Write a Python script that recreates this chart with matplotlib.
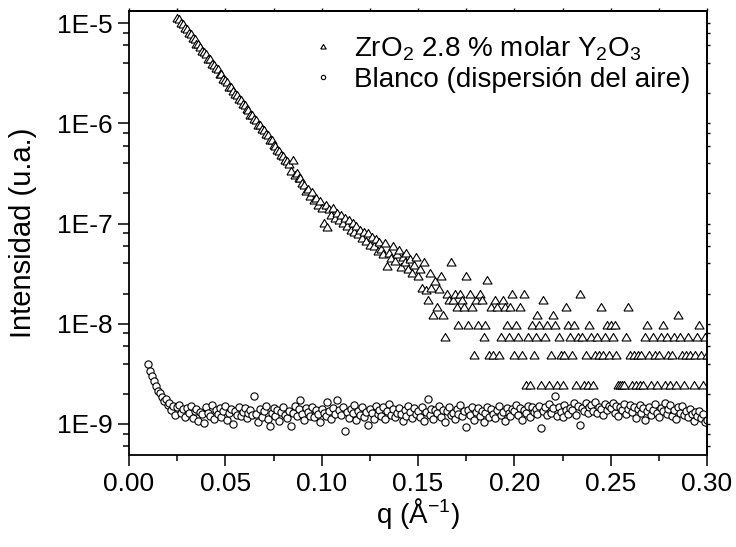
import numpy as np
import matplotlib.pyplot as plt
from matplotlib.ticker import LogLocator, FuncFormatter, MultipleLocator, NullFormatter

plt.rcParams['font.family'] = ['Liberation Sans', 'DejaVu Sans']
plt.rcParams['mathtext.fontset'] = 'custom'
plt.rcParams['mathtext.rm'] = 'Liberation Sans'
plt.rcParams['mathtext.it'] = 'Liberation Sans'
plt.rcParams['mathtext.default'] = 'regular'

nan = float('nan')

# q grid (1/Angstrom), shared by both measurements
q = [0.010, 0.011, 0.012, 0.013, 0.014, 0.015, 0.016, 0.017, 0.018, 0.019,
     0.020, 0.021, 0.022, 0.023, 0.024, 0.025, 0.026, 0.027, 0.028, 0.029,
     0.030, 0.031, 0.032, 0.033, 0.034, 0.035, 0.036, 0.037, 0.038, 0.039,
     0.040, 0.041, 0.042, 0.043, 0.044, 0.045, 0.046, 0.047, 0.048, 0.049,
     0.050, 0.051, 0.052, 0.053, 0.054, 0.055, 0.056, 0.057, 0.058, 0.059,
     0.060, 0.061, 0.062, 0.063, 0.064, 0.065, 0.066, 0.067, 0.068, 0.069,
     0.070, 0.071, 0.072, 0.073, 0.074, 0.075, 0.076, 0.077, 0.078, 0.079,
     0.080, 0.081, 0.082, 0.083, 0.084, 0.085, 0.086, 0.087, 0.088, 0.089,
     0.090, 0.091, 0.092, 0.093, 0.094, 0.095, 0.096, 0.097, 0.098, 0.099,
     0.100, 0.101, 0.102, 0.103, 0.104, 0.105, 0.106, 0.107, 0.108, 0.109,
     0.110, 0.111, 0.112, 0.113, 0.114, 0.115, 0.116, 0.117, 0.118, 0.119,
     0.120, 0.121, 0.122, 0.123, 0.124, 0.125, 0.126, 0.127, 0.128, 0.129,
     0.130, 0.131, 0.132, 0.133, 0.134, 0.135, 0.136, 0.137, 0.138, 0.139,
     0.140, 0.141, 0.142, 0.143, 0.144, 0.145, 0.146, 0.147, 0.148, 0.149,
     0.150, 0.151, 0.152, 0.153, 0.154, 0.155, 0.156, 0.157, 0.158, 0.159,
     0.160, 0.161, 0.162, 0.163, 0.164, 0.165, 0.166, 0.167, 0.168, 0.169,
     0.170, 0.171, 0.172, 0.173, 0.174, 0.175, 0.176, 0.177, 0.178, 0.179,
     0.180, 0.181, 0.182, 0.183, 0.184, 0.185, 0.186, 0.187, 0.188, 0.189,
     0.190, 0.191, 0.192, 0.193, 0.194, 0.195, 0.196, 0.197, 0.198, 0.199,
     0.200, 0.201, 0.202, 0.203, 0.204, 0.205, 0.206, 0.207, 0.208, 0.209,
     0.210, 0.211, 0.212, 0.213, 0.214, 0.215, 0.216, 0.217, 0.218, 0.219,
     0.220, 0.221, 0.222, 0.223, 0.224, 0.225, 0.226, 0.227, 0.228, 0.229,
     0.230, 0.231, 0.232, 0.233, 0.234, 0.235, 0.236, 0.237, 0.238, 0.239,
     0.240, 0.241, 0.242, 0.243, 0.244, 0.245, 0.246, 0.247, 0.248, 0.249,
     0.250, 0.251, 0.252, 0.253, 0.254, 0.255, 0.256, 0.257, 0.258, 0.259,
     0.260, 0.261, 0.262, 0.263, 0.264, 0.265, 0.266, 0.267, 0.268, 0.269,
     0.270, 0.271, 0.272, 0.273, 0.274, 0.275, 0.276, 0.277, 0.278, 0.279,
     0.280, 0.281, 0.282, 0.283, 0.284, 0.285, 0.286, 0.287, 0.288, 0.289,
     0.290, 0.291, 0.292, 0.293, 0.294, 0.295, 0.296, 0.297, 0.298, 0.299,
     0.300]

# intensities in units of 1E-9 (nan = nothing recorded)
i_zro2 = [nan, nan, nan, nan, nan, nan, nan, nan, nan, nan,
          nan, nan, nan, nan, nan, 11100, 10700, 9800, 9600, 8700,
          8500, 7700, 7600, 6900, 6800, 6100, 6000, 5700, 5100, 5000,
          4800, 4300, 4250, 3800, 3750, 3450, 3400, 3050, 3000, 2700,
          2650, 2500, 2250, 2250, 2050, 1900, 1880, 1700, 1680, 1520,
          1480, 1350, 1320, 1190, 1170, 1080, 1050, 940, 930, 850,
          830, 760, 740, 660, 670, 590, 580, 530, 520, 470,
          460, 420, 410, 380, 330, 420, 300, 310, 275, 280,
          250, 235, 205, 215, 185, 200, 168, 175, 150, 165,
          140, 100, 150, 90, 135, 120, 140, 112, 125, 105,
          118, 98, 112, 92, 105, 84, 100, 80, 92, 76,
          85, 70, 80, 66, 78, 60, 72, 58, 68, 52,
          64, 55, 48, 62, 37, 50, 44, 58, 41, 48,
          53, 36, 45, 40, 50, 34, 43, 31, 38, 45,
          29, 34, 22, 40, 21, 17, 31, 22, 12, 26,
          14.4, 21.6, 29, 12, 7.2, 19.2, 16.8, 40.8, 16.8, 19.2,
          14.4, 9.6, 19.2, 16.8, 14.4, 29, 9.6, 19.2, 14.4, 4.8,
          16.8, 9.6, 19.2, 16.8, 7.2, 9.6, 26.4, 4.8, 14.4, 4.8,
          16.8, 14.4, 4.8, 7.2, 16.8, 14.4, 9.6, 7.2, 14.4, 19.2,
          4.8, 9.6, 7.2, 14.4, 4.8, 19.2, 2.4, 7.2, 2.4, 9.6,
          4.8, 7.2, 12, 9.6, 2.4, 16.8, 7.2, 9.6, 2.4, 4.8,
          12, 9.6, 2.4, 7.2, 4.8, 2.4, 4.8, 14.4, 9.6, 7.2,
          4.8, 9.6, 2.4, 7.2, 19.2, 7.2, 2.4, 4.8, 2.4, 9.6,
          7.2, 2.4, 4.8, 7.2, 4.8, 14.4, 4.8, 7.2, 9.6, 4.8,
          9.6, 7.2, 9.6, 4.8, 2.4, 2.4, 2.4, 2.4, 7.2, 14.4,
          4.8, 2.4, 4.8, 2.4, 4.8, 2.4, 4.8, 2.4, 7.2, 9.6,
          4.8, 2.4, 7.2, 4.8, 2.4, 4.8, 7.2, 9.6, 2.4, 7.2,
          4.8, 2.4, 4.8, 7.2, 2.4, 12, 7.2, 4.8, 2.4, 4.8,
          7.2, 4.8, nan, 2.4, 4.8, 7.2, 9.6, 4.8, 2.4, 7.2,
          4.8]

i_blanco = [3.95, 3.35, 3.0, 2.7, 2.4, 2.15, 2.05, 1.85, 1.7, 1.78,
            1.55, 1.62, 1.38, 1.50, 1.22, 1.47, 1.56, 1.30, 1.42, 1.18,
            1.45, 1.28, 1.52, 1.15, 1.36, 1.40, 1.08, 1.33, 1.25, 1.03,
            1.48, 1.30, 1.21, 1.55, 1.12, 1.38, 1.26, 1.44, 1.17, 1.35,
            1.52, 1.10, 1.29, 1.41, 1.00, 1.36, 1.24, 1.47, 1.19, 1.33,
            1.43, 1.15, 1.30, 1.38, 1.22, 1.89, 1.27, 1.05, 1.40, 1.18,
            1.34, 1.50, 1.12, 0.96, 1.29, 1.44, 1.20, 1.37, 1.08, 1.31,
            1.46, 1.23, 1.14, 1.35, 0.95, 1.28, 1.52, 1.19, 1.40, 1.72,
            1.26, 1.10, 1.45, 1.33, 1.21, 1.48, 1.16, 1.38, 1.27, 1.05,
            1.42, 1.30, 1.19, 1.66, 1.35, 1.12, 1.44, 1.25, 1.72, 1.37,
            1.22, 1.49, 0.86, 1.31, 1.15, 1.40, 1.28, 1.54, 1.09, 1.36,
            1.24, 1.46, 1.17, 1.33, 0.97, 1.41, 1.29, 1.13, 1.52, 1.26,
            1.38, 1.20, 1.47, 1.11, 1.34, 1.58, 1.23, 1.40, 1.16, 1.30,
            1.45, 1.27, 1.06, 1.39, 1.21, 1.50, 1.32, 1.14, 1.43, 1.25,
            1.36, 1.18, 1.48, 1.07, 1.33, 1.79, 1.24, 1.41, 1.12, 1.37,
            1.28, 1.51, 1.16, 1.39, 1.04, 1.35, 1.46, 1.22, 1.30, 1.13,
            1.42, 1.26, 1.55, 1.19, 1.34, 0.93, 1.38, 1.23, 1.47, 1.10,
            1.31, 1.44, 1.20, 1.36, 1.05, 1.29, 1.49, 1.17, 1.40, 1.27,
            1.15, 1.38, 1.52, 1.24, 1.33, 1.08, 1.45, 1.29, 1.19, 1.41,
            1.34, 1.56, 1.22, 1.43, 1.10, 1.37, 1.28, 1.50, 1.18, 1.46,
            1.31, 1.40, 1.25, 1.52, 0.92, 1.36, 1.47, 1.23, 1.58, 1.30,
            1.44, 1.92, 1.21, 1.49, 1.33, 1.16, 1.55, 1.38, 1.27, 1.45,
            1.39, 1.62, 1.24, 1.51, 0.98, 1.43, 1.34, 1.60, 1.29, 1.47,
            1.56, 1.35, 1.65, 1.28, 1.48, 1.40, 1.22, 1.58, 1.37, 1.52,
            1.44, 1.63, 1.30, 1.50, 1.19, 1.46, 1.38, 1.57, 1.26, 1.42,
            1.53, 1.32, 1.47, 1.14, 1.40, 1.55, 1.28, 1.43, 1.10, 1.36,
            1.48, 1.22, 1.39, 1.58, 1.30, 1.17, 1.45, 1.34, 1.62, 1.26,
            1.41, 1.54, 1.20, 1.37, 1.12, 1.46, 1.29, 1.50, 1.24, 1.35,
            1.18, 1.40, 1.27, 1.08, 1.33, 1.21, 1.36, 1.14, 1.25, 1.05,
            1.10]

label_zro2 = 'ZrO$_2$ 2.8 % molar Y$_2$O$_3$'
label_blanco = 'Blanco (dispersión del aire)'

# open triangle, a bit wider than tall
tri = [(-1.0, -0.55), (1.0, -0.55), (0.0, 1.1), (-1.0, -0.55)]

fig = plt.figure(figsize=(7.36, 5.47), dpi=100)
ax = fig.add_axes([0.1753, 0.1682, 0.7853, 0.8117])

qa = np.array(q)
ax.plot(qa, np.array(i_zro2) * 1e-9, linestyle='none', marker=tri,
        markersize=7.2, markerfacecolor='white', markeredgecolor='black',
        markeredgewidth=0.8, label=label_zro2)
ax.plot(qa, np.array(i_blanco) * 1e-9, linestyle='none', marker='o',
        markersize=5.2, markerfacecolor='white', markeredgecolor='black',
        markeredgewidth=0.8, label=label_blanco)

ax.set_yscale('log')
ax.set_xlim(0.0, 0.30)
ax.set_ylim(4.9e-10, 1.32e-5)

ax.xaxis.set_major_locator(MultipleLocator(0.05))
ax.xaxis.set_minor_locator(MultipleLocator(0.025))
ax.xaxis.set_major_formatter(FuncFormatter(lambda v, p: '%.2f' % v))
ax.yaxis.set_major_locator(LogLocator(base=10, numticks=20))
ax.yaxis.set_minor_locator(LogLocator(base=10, subs=(2, 4, 6, 8), numticks=20))
ax.yaxis.set_major_formatter(FuncFormatter(lambda v, p: '1E%d' % int(round(np.log10(v)))))
ax.yaxis.set_minor_formatter(NullFormatter())

ax.tick_params(which='both', direction='out', width=1.1, labelsize=19)
ax.tick_params(which='major', length=8, pad=4)
ax.tick_params(which='minor', length=4.5)
for s in ax.spines.values():
    s.set_linewidth(1.3)

# mirrored short ticks on top and right
top = ax.secondary_xaxis('top')
top.xaxis.set_major_locator(MultipleLocator(0.05))
top.xaxis.set_minor_locator(MultipleLocator(0.025))
top.tick_params(which='both', direction='out', length=2.5, width=1.0,
                labeltop=False)
top.spines['top'].set_linewidth(1.3)
right = ax.secondary_yaxis('right')
right.yaxis.set_major_locator(LogLocator(base=10, numticks=20))
right.yaxis.set_minor_locator(LogLocator(base=10, subs=(2, 4, 6, 8), numticks=20))
right.tick_params(which='both', direction='out', length=2.5, width=1.0,
                  labelright=False)
right.spines['right'].set_linewidth(1.3)

ax.set_xlabel('q (Å$^{-1}$)', fontsize=20, labelpad=0)
ax.set_ylabel('Intensidad (u.a.)', fontsize=21, labelpad=14)

ax.legend(loc='upper left', bbox_to_anchor=(0.278, 0.99), frameon=False,
          fontsize=20, markerscale=0.6, handlelength=1.0, handletextpad=0.6,
          labelspacing=0.12, borderpad=0.2)

fig.savefig('out.png', dpi=100)
